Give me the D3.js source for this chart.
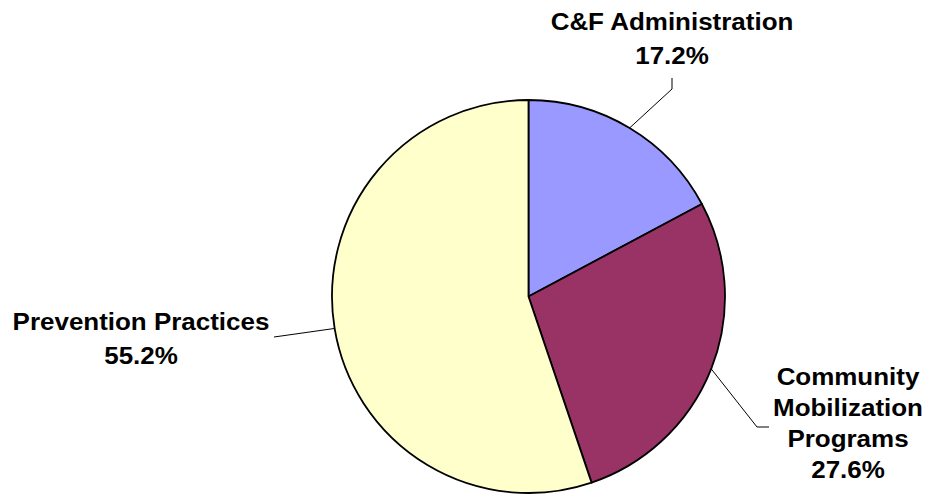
<!DOCTYPE html>
<html>
<head>
  <meta charset="utf-8">
  <title>Budget pie</title>
  <script src="https://cdn.jsdelivr.net/npm/d3@7/dist/d3.min.js"></script>
  <style>
    body { margin:0; background:white; }
    svg text { font-family:"Liberation Sans", Arial, sans-serif; font-weight:bold; fill:#000; }
  </style>
</head>
<body>
<div id="chart"></div>
<script>
// data
var categories = ["C&F Administration", "Community Mobilization Programs", "Prevention Practices"];
var values = [17.2, 27.6, 55.2];
var labelLines = [["C&F Administration"], ["Community", "Mobilization", "Programs"], ["Prevention Practices"]];
var colors = ["#9999FF", "#993366", "#FFFFCC"];

var w = 932, h = 495;
var cx = 528.5, cy = 296.5, r = 196.5;

// label placement: text centre x, first baseline, line step, leader elbow + end
var layout = [
  {x:672, y:30, step:34, elbow:[672, 89], end:[672, 78]},
  {x:848, y:385, step:31, elbow:[757, 427], end:[769, 427]},
  {x:141, y:330, step:34, elbow:null, end:[274, 337]}
];

var svg = d3.select('#chart').append('svg')
  .attr('width', w)
  .attr('height', h);

var pie = d3.pie().sort(null).value(function(d) { return d; });
var arcs = pie(values);
var arc = d3.arc().innerRadius(0).outerRadius(r);

var g = svg.append('g').attr('transform', 'translate(' + cx + ',' + cy + ')');

g.selectAll('path')
    .data(arcs)
  .enter().append('path')
    .attr('d', arc)
    .attr('fill', function(d, i) { return colors[i]; })
    .attr('stroke', '#000')
    .attr('stroke-width', 1.8)
    .attr('stroke-linejoin', 'round');

// leader lines start on the rim at the middle of each slice
arcs.forEach(function(d, i) {
  var a = (d.startAngle + d.endAngle) / 2;
  var p = [cx + r * Math.sin(a), cy - r * Math.cos(a)];
  var L = layout[i];
  var pts = [p];
  if (L.elbow) pts.push(L.elbow);
  pts.push(L.end);
  svg.append('path')
    .attr('d', d3.line()(pts))
    .attr('fill', 'none')
    .attr('stroke', '#000')
    .attr('stroke-width', 1);

  // the labels are drawn a little wide, like the original
  var t = svg.append('text')
    .attr('text-anchor', 'middle')
    .attr('font-size', 23.5)
    .attr('transform', 'translate(' + L.x + ',0) scale(1.105,1) translate(' + (-L.x) + ',0)');
  var lines = labelLines[i].concat([values[i].toFixed(1) + '%']);
  lines.forEach(function(s, k) {
    t.append('tspan')
      .attr('x', L.x)
      .attr('y', L.y + k * L.step)
      .text(s);
  });
});
</script>
</body>
</html>
